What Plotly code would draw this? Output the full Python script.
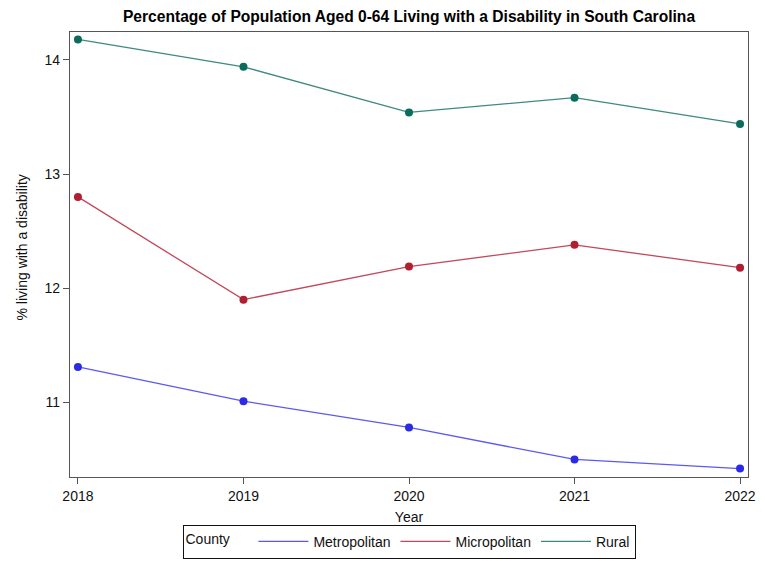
import plotly.graph_objects as go

years = [2018, 2019, 2020, 2021, 2022]
metropolitan = [11.31, 11.01, 10.78, 10.50, 10.42]
micropolitan = [12.80, 11.90, 12.19, 12.38, 12.18]
rural = [14.18, 13.94, 13.54, 13.67, 13.44]

series = [
    ("Metropolitan", metropolitan, "#2b2be6", "#5a5af0"),
    ("Micropolitan", micropolitan, "#b01e32", "#c2485a"),
    ("Rural", rural, "#0b6b5c", "#3f8a7e"),
]

fig = go.Figure()
for name, vals, mcol, lcol in series:
    fig.add_trace(go.Scatter(
        x=years, y=vals, mode="lines+markers", name=name,
        line=dict(color=lcol, width=1.3),
        marker=dict(color=mcol, size=8),
        showlegend=False,
    ))
# legend entries show the line only
for name, vals, mcol, lcol in series:
    fig.add_trace(go.Scatter(
        x=[None], y=[None], mode="lines", name=name,
        line=dict(color=lcol, width=1.3),
    ))

W, H = 765, 561
L, R, T, B = 70, 17, 32, 84
font = "Liberation Sans, Arial, sans-serif"
fig.update_layout(
    width=W, height=H,
    margin=dict(l=L, r=R, t=T, b=B, autoexpand=False),
    paper_bgcolor="white", plot_bgcolor="white",
    font=dict(family=font, size=14, color="#111"),
    title=dict(
        text="<b>Percentage of Population Aged 0-64 Living with a Disability in South Carolina</b>",
        x=0.5, xref="paper", xanchor="center", y=1 - 17 / H, yanchor="middle",
        font=dict(size=15.6, color="#000"),
    ),
    xaxis=dict(
        range=[2017.952, 2022.048], tickvals=years, ticktext=[str(y) for y in years],
        showline=True, linecolor="#555", linewidth=1.3, mirror=True,
        ticks="outside", ticklen=6, tickcolor="#555", showgrid=False, zeroline=False,
        title=dict(text="Year", standoff=13, font=dict(size=14)),
    ),
    yaxis=dict(
        range=[10.346, 14.245], tickvals=[11, 12, 13, 14],
        showline=True, linecolor="#555", linewidth=1.3, mirror=True,
        ticks="outside", ticklen=6, tickcolor="#555", showgrid=False, zeroline=False,
    ),
    annotations=[dict(
        text="% living with a disability", textangle=-90,
        xref="paper", x=-49 / (W - L - R), xanchor="center",
        yref="paper", y=(H - B - 247.5) / (H - T - B), yanchor="middle",
        showarrow=False, font=dict(size=14),
    )],
    legend=dict(
        orientation="h", xref="paper", x=0.5, xanchor="center",
        yref="container", y=0.004, yanchor="bottom",
        bordercolor="#111", borderwidth=1, bgcolor="white",
        title=dict(text="County&nbsp;&nbsp;&nbsp;&nbsp;", side="left", font=dict(size=14)),
        itemwidth=50, font=dict(size=14),
    ),
    showlegend=True,
)

fig.write_html("out.html")
